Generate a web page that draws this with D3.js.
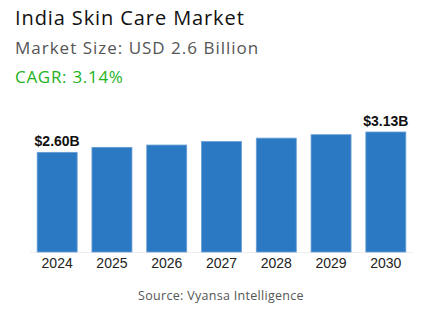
<!DOCTYPE html>
<html>
<head>
<meta charset="utf-8">
<script src="https://cdn.jsdelivr.net/npm/d3@7"></script>
<style>
body { margin: 0; background: #fff; }
</style>
</head>
<body>
<div id="chart"></div>
<script>
var years = ['2024', '2025', '2026', '2027', '2028', '2029', '2030'];
var values = [2.60, 2.73, 2.79, 2.88, 2.97, 3.06, 3.13];
var labels = ['$2.60B', '', '', '', '', '', '$3.13B'];

var width = 443, height = 332;

var svg = d3.select('#chart')
    .append('svg')
    .attr('width', width)
    .attr('height', height);

var x = d3.scaleBand()
    .domain(years)
    .range([29.5, 413.5])
    .paddingInner(0.27)
    .paddingOuter(0.14);

var y = d3.scaleLinear()
    .domain([0, 3.13])
    .range([252, 132]);

svg.append('line')
    .attr('x1', 30).attr('x2', 413)
    .attr('y1', 252.5).attr('y2', 252.5)
    .attr('stroke', '#eeeeee');

svg.selectAll('.bar')
    .data(values)
    .enter().append('rect')
    .attr('class', 'bar')
    .attr('x', function(d, i) { return x(years[i]); })
    .attr('y', function(d) { return y(d); })
    .attr('width', x.bandwidth())
    .attr('height', function(d) { return y(0) - y(d); })
    .attr('fill', '#2b79c2')
    .attr('stroke', '#6a9fd6')
    .attr('stroke-width', 0.8);

svg.selectAll('.val')
    .data(values)
    .enter().append('text')
    .attr('class', 'val')
    .attr('x', function(d, i) { return x(years[i]) + x.bandwidth() / 2; })
    .attr('y', function(d) { return y(d) - 6; })
    .attr('text-anchor', 'middle')
    .style('font-family', '"Liberation Sans", Arial, sans-serif')
    .style('font-weight', 'bold')
    .style('font-size', '14px')
    .style('fill', '#111')
    .text(function(d, i) { return labels[i]; });

var xAxis = d3.axisBottom(x).tickSize(0).tickPadding(0);
var ax = svg.append('g')
    .attr('transform', 'translate(0,252)')
    .call(xAxis);
ax.select('.domain').remove();
ax.selectAll('text')
    .attr('dy', '16px')
    .style('font-family', '"Liberation Sans", Arial, sans-serif')
    .style('font-size', '14px')
    .style('fill', '#222');

svg.append('text')
    .attr('x', 15).attr('y', 25)
    .style('font-family', '"Open Sans", sans-serif')
    .style('font-size', '20px')
    .style('letter-spacing', '0.9px')
    .style('fill', '#111')
    .text('India Skin Care Market');

svg.append('text')
    .attr('x', 15).attr('y', 54)
    .style('font-family', '"Open Sans", sans-serif')
    .style('font-size', '17px')
    .style('letter-spacing', '1px')
    .style('fill', '#555')
    .text('Market Size: USD 2.6 Billion');

svg.append('text')
    .attr('x', 15).attr('y', 83)
    .style('font-family', '"Open Sans", sans-serif')
    .style('font-size', '17px')
    .style('letter-spacing', '0.7px')
    .style('fill', '#1db31d')
    .text('CAGR: 3.14%');

svg.append('text')
    .attr('x', 221).attr('y', 300)
    .attr('text-anchor', 'middle')
    .style('font-family', '"Open Sans", sans-serif')
    .style('font-size', '12.5px')
    .style('letter-spacing', '0.3px')
    .style('fill', '#555')
    .text('Source: Vyansa Intelligence');
</script>
</body>
</html>
